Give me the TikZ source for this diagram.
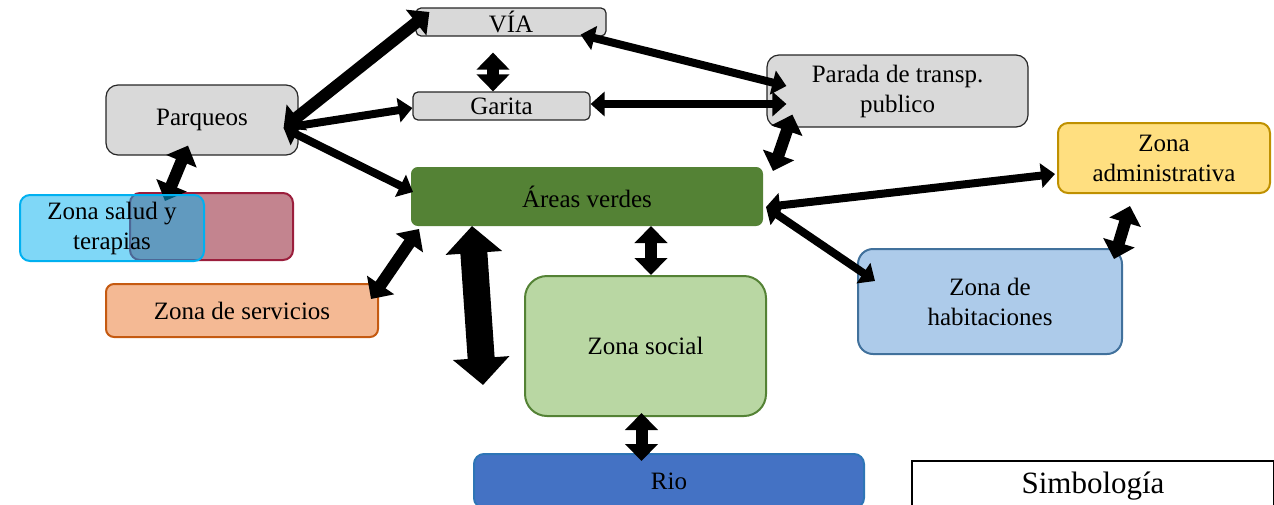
\documentclass[tikz,border=0pt]{standalone}
\usepackage{fontspec}
\setmainfont{Liberation Serif}
\usetikzlibrary{arrows.meta}

\definecolor{grisbox}{RGB}{217,217,217}
\definecolor{grisline}{RGB}{38,38,38}
\definecolor{verdeosc}{RGB}{84,130,53}
\definecolor{verdecla}{RGB}{185,215,163}
\definecolor{celeste}{RGB}{0,176,240}
\definecolor{rosa}{RGB}{195,132,143}
\definecolor{rosaline}{RGB}{155,30,60}
\definecolor{naranja}{RGB}{244,185,148}
\definecolor{naranjaline}{RGB}{197,90,17}
\definecolor{azulrio}{RGB}{68,114,196}
\definecolor{azulrioline}{RGB}{46,117,182}
\definecolor{amarillo}{RGB}{255,223,128}
\definecolor{amarilloline}{RGB}{191,144,0}
\definecolor{azulhab}{RGB}{173,203,234}
\definecolor{azulhabline}{RGB}{65,113,156}

\pgfdeclarelayer{frente}
\pgfsetlayers{main,frente}

\begin{document}
\begin{tikzpicture}[x=1pt,y=-1pt,every node/.style={font=\fontsize{25}{30}\selectfont},
  caja/.style={draw,align=center,inner sep=0pt},
  gris/.style={caja,fill=grisbox,draw=grisline,line width=1.2pt},
  flecha/.style={line width=8pt,>={Triangle[width=24pt,length=14pt]},<->},
  flechaG/.style={line width=12pt,>={Triangle[width=32pt,length=17pt]},<->},
  flechaXL/.style={line width=27pt,>={Triangle[width=55pt,length=27pt]},<->}]
\useasboundingbox (0,0) rectangle (1274,504);

\node[gris,minimum width=190pt,minimum height=28pt,rounded corners=5pt] (via) at (511,22) {VÍA};
\node[gris,minimum width=177pt,minimum height=28pt,rounded corners=5pt] (garita) at (501.5,106) {Garita};
\node[gris,minimum width=192pt,minimum height=70pt,rounded corners=12pt] (parq) at (202,120) {Parqueos};
\node[gris,minimum width=261pt,minimum height=72pt,rounded corners=12pt] (parada) at (897.5,91) {Parada de transp.\\publico};
\node[caja,fill=verdeosc,draw=verdeosc,line width=2pt,minimum width=350pt,minimum height=57pt,rounded corners=6pt] (verdes) at (587,196.5) {Áreas verdes};
\node[caja,fill=rosa,draw=rosaline,line width=2pt,minimum width=163pt,minimum height=67pt,rounded corners=10pt] (saludfondo) at (211.5,226.5) {};
\node[caja,fill=naranja,draw=naranjaline,line width=2pt,minimum width=272pt,minimum height=53pt,rounded corners=8pt] (serv) at (242,310.5) {Zona de servicios};
\node[caja,fill=verdecla,draw=verdeosc,line width=2pt,minimum width=241pt,minimum height=140pt,rounded corners=22pt] (social) at (645.5,346) {Zona social};
\node[caja,fill=azulrio,draw=azulrioline,line width=2pt,minimum width=390pt,minimum height=54pt,rounded corners=10pt] (rio) at (669,481) {Rio};
\node[caja,fill=amarillo,draw=amarilloline,line width=2pt,minimum width=212pt,minimum height=70pt,rounded corners=10pt] (admin) at (1164,158) {Zona\\administrativa};
\node[caja,fill=azulhab,draw=azulhabline,line width=2pt,minimum width=264pt,minimum height=105pt,rounded corners=15pt] (hab) at (990,301.5) {Zona de\\habitaciones};
\node[caja,fill=white,draw=black,line width=2pt,minimum width=362pt,minimum height=50pt,font=\fontsize{31}{36}\selectfont] (simb) at (1093,486) {Simbología};
\begin{pgfonlayer}{frente}
\node[caja,fill=celeste,fill opacity=0.5,text opacity=1,draw=celeste,line width=2pt,minimum width=184pt,minimum height=66pt,rounded corners=10pt] (salud) at (112,228) {Zona salud y\\terapias};
\end{pgfonlayer}

\coordinate (libre) at (483,385);

\draw[flechaG] ([xshift=-15pt,yshift=-8pt]parq.east) -- ([xshift=14pt,yshift=10pt]via.west);
\draw[flecha] ([xshift=-15pt,yshift=-8pt]parq.east) -- ([yshift=-2pt]garita.west);
\draw[flecha] ([xshift=-15pt,yshift=-8pt]parq.east) -- ([xshift=2pt,yshift=4.5pt]verdes.west);
\draw[flechaG] ([xshift=-18pt,yshift=-16pt]via.south) -- ([xshift=-8.5pt]garita.north);
\draw[flecha] ([xshift=-26pt,yshift=2pt]via.south east) -- ([xshift=20pt,yshift=5pt]parada.west);
\draw[flecha] ([yshift=2pt]garita.east) -- ([xshift=20pt,yshift=-13pt]parada.west);
\draw[flechaG] ([xshift=26pt,yshift=13pt]parada.south west) -- ([xshift=10pt,yshift=-4pt]verdes.north east);
\draw[flechaG] ([xshift=-14pt,yshift=10pt]parq.south) -- ([xshift=53pt,yshift=-7pt]salud.north);
\draw[flechaG] ([xshift=8pt,yshift=-3pt]verdes.south west) -- ([xshift=-8pt,yshift=-16pt]serv.north east);
\draw[flechaXL] ([xshift=61pt]verdes.south west) -- (libre);
\draw[flechaG] ([xshift=64pt]verdes.south) -- ([xshift=5.5pt]social.north);
\draw[flecha] ([xshift=3pt,yshift=-10.5pt]verdes.east) -- ([xshift=-2pt,yshift=-16pt]admin.west);
\draw[flecha] ([xshift=3pt,yshift=-10.5pt]verdes.east) -- ([xshift=18pt,yshift=-33pt]hab.north west);
\draw[flechaG] ([xshift=-34pt,yshift=-12pt]admin.south) -- ([xshift=-9pt,yshift=-11pt]hab.north east);
\draw[flechaG] ([xshift=-4pt,yshift=4pt]social.south) -- ([xshift=-27.5pt,yshift=-8pt]rio.north);
\end{tikzpicture}
\end{document}
